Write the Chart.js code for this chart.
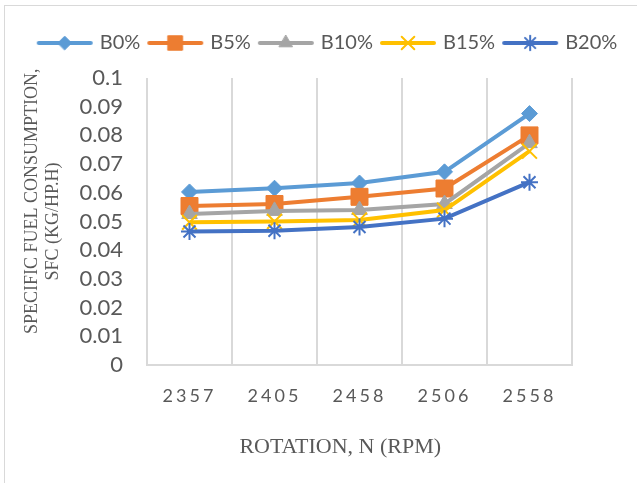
<!DOCTYPE html>
<html>
<head>
<meta charset="utf-8">
<script src="https://cdn.jsdelivr.net/npm/chart.js@4.4.0/dist/chart.umd.min.js"></script>
<style>
  html, body { margin: 0; padding: 0; background: #fff; }
  #wrap { position: relative; width: 637px; height: 483px; }
  #frame { position: absolute; left: 4px; top: 5px; right: 0; bottom: 0;
           border-left: 1px solid #d9d9d9; border-top: 1px solid #d9d9d9; }
  canvas { position: absolute; left: 0; top: 0; }
</style>
</head>
<body>
<div id="wrap">
  <div id="frame"></div>
  <canvas id="sfcChart" width="637" height="483"></canvas>
</div>
<script>
// data
const rpm = ['2357', '2405', '2458', '2506', '2558'];
const b0  = [0.0603, 0.0616, 0.0634, 0.0673, 0.0876];
const b5  = [0.0554, 0.0561, 0.0586, 0.0615, 0.0800];
const b10 = [0.0526, 0.0537, 0.0540, 0.0561, 0.0773];
const b15 = [0.0497, 0.0500, 0.0505, 0.0540, 0.0745];
const b20 = [0.0465, 0.0468, 0.0481, 0.0510, 0.0637];
const yTickLabels = ['0', '0.01', '0.02', '0.03', '0.04', '0.05', '0.06', '0.07', '0.08', '0.09', '0.1'];

const textGray = '#595959';
const gridGray = '#d9d9d9';

const series = [
    { label: 'B0%',  data: b0,  color: '#5b9bd5', style: 'rectRot',  radius: 8,    bw: 1 },
    { label: 'B5%',  data: b5,  color: '#ed7d31', style: 'rect',     radius: 12,   bw: 1 },
    { label: 'B10%', data: b10, color: '#a5a5a5', style: 'triangle', radius: 9,    bw: 1 },
    { label: 'B15%', data: b15, color: '#ffc000', style: 'crossRot', radius: 10.5, bw: 2 },
    { label: 'B20%', data: b20, color: '#4472c4', style: 'star',     radius: 8.5,  bw: 2 }
];

// little line + marker picture used as legend symbol
function legendIcon(s) {
    const c = document.createElement('canvas');
    c.width = 60;
    c.height = 22;
    const g = c.getContext('2d');
    g.strokeStyle = s.color;
    g.lineWidth = 4;
    g.lineCap = 'round';
    g.beginPath();
    g.moveTo(4, 11);
    g.lineTo(56, 11);
    g.stroke();
    g.fillStyle = s.color;
    g.lineWidth = s.bw;
    Chart.helpers.drawPoint(g, { pointStyle: s.style, radius: s.radius * 0.85, borderWidth: s.bw, rotation: 0 }, 30, 11);
    return c;
}

const layoutTweaks = {
    id: 'layoutTweaks',
    beforeLayout(chart) {
        const lg = chart.legend;
        if (lg && !lg._fitWrapped) {
            const fit = lg.fit.bind(lg);
            lg.fit = function () { fit(); this.height += 15; };
            lg._fitWrapped = true;
        }
    },
    beforeDraw(chart) {
        const x = chart.scales.x;
        if (x && !x._spaced) {
            const orig = x.drawLabels.bind(x);
            x.drawLabels = function (area) {
                this.ctx.save();
                this.ctx.letterSpacing = '3px';
                orig(area);
                this.ctx.restore();
            };
            x._spaced = true;
        }
    }
};

const ctx = document.getElementById('sfcChart');

const chart = new Chart(ctx, {
    type: 'line',
    data: {
        labels: rpm,
        datasets: series.map((s, i) => ({
            label: s.label,
            data: s.data,
            borderColor: s.color,
            backgroundColor: s.color,
            borderWidth: 4,
            tension: 0,
            fill: false,
            pointStyle: s.style,
            pointRadius: s.radius,
            pointHoverRadius: s.radius,
            pointBorderWidth: s.bw,
            pointBorderColor: s.color,
            pointBackgroundColor: s.color,
            order: series.length - i
        }))
    },
    options: {
        responsive: false,
        animation: false,
        layout: {
            padding: { top: 23, left: 20, right: 0, bottom: 0 }
        },
        plugins: {
            tooltip: { enabled: false },
            legend: {
                position: 'top',
                labels: {
                    usePointStyle: true,
                    pointStyleWidth: 50,
                    padding: 10,
                    color: textGray,
                    font: { family: 'Lato', size: 20 },
                    sort: (a, b) => a.datasetIndex - b.datasetIndex,
                    generateLabels(chart) {
                        const items = Chart.defaults.plugins.legend.labels.generateLabels(chart);
                        items.forEach(it => { it.pointStyle = legendIcon(series[it.datasetIndex]); });
                        return items;
                    }
                }
            }
        },
        scales: {
            x: {
                type: 'category',
                offset: true,
                afterFit(scale) { scale.height = 118; },
                grid: { display: true, offset: true, color: gridGray, lineWidth: 2, drawTicks: false },
                border: { display: true, color: gridGray, width: 2 },
                ticks: {
                    padding: 20,
                    color: textGray,
                    font: { family: 'Lato', size: 18 }
                },
                title: {
                    display: true,
                    text: 'ROTATION, N (RPM)       ',
                    color: textGray,
                    font: { family: 'Liberation Serif', size: 22, lineHeight: 1.2 },
                    padding: { top: 0, bottom: 23 }
                }
            },
            y: {
                min: 0,
                max: 0.1,
                afterFit(scale) { scale.width = 127; },
                grid: { display: false, drawTicks: false },
                border: { display: false },
                ticks: {
                    stepSize: 0.01,
                    autoSkip: false,
                    padding: 24,
                    color: textGray,
                    font: { family: 'Lato', size: 22 },
                    callback: (v, i) => yTickLabels[i]
                },
                title: {
                    display: true,
                    text: ['         SPECIFIC FUEL CONSUMPTION,', 'SFC (KG/HP.H)'],
                    color: textGray,
                    font: { family: 'Liberation Serif', size: 18, lineHeight: 1.17 },
                    padding: { top: 2, bottom: 0 }
                }
            },
            // empty right-hand axis, only keeps the plot's right margin
            spacer: {
                type: 'linear',
                position: 'right',
                afterFit(scale) { scale.width = 65; },
                grid: { display: false, drawTicks: false },
                border: { display: false },
                ticks: { display: false }
            }
        }
    },
    plugins: [layoutTweaks]
});
</script>
</body>
</html>
